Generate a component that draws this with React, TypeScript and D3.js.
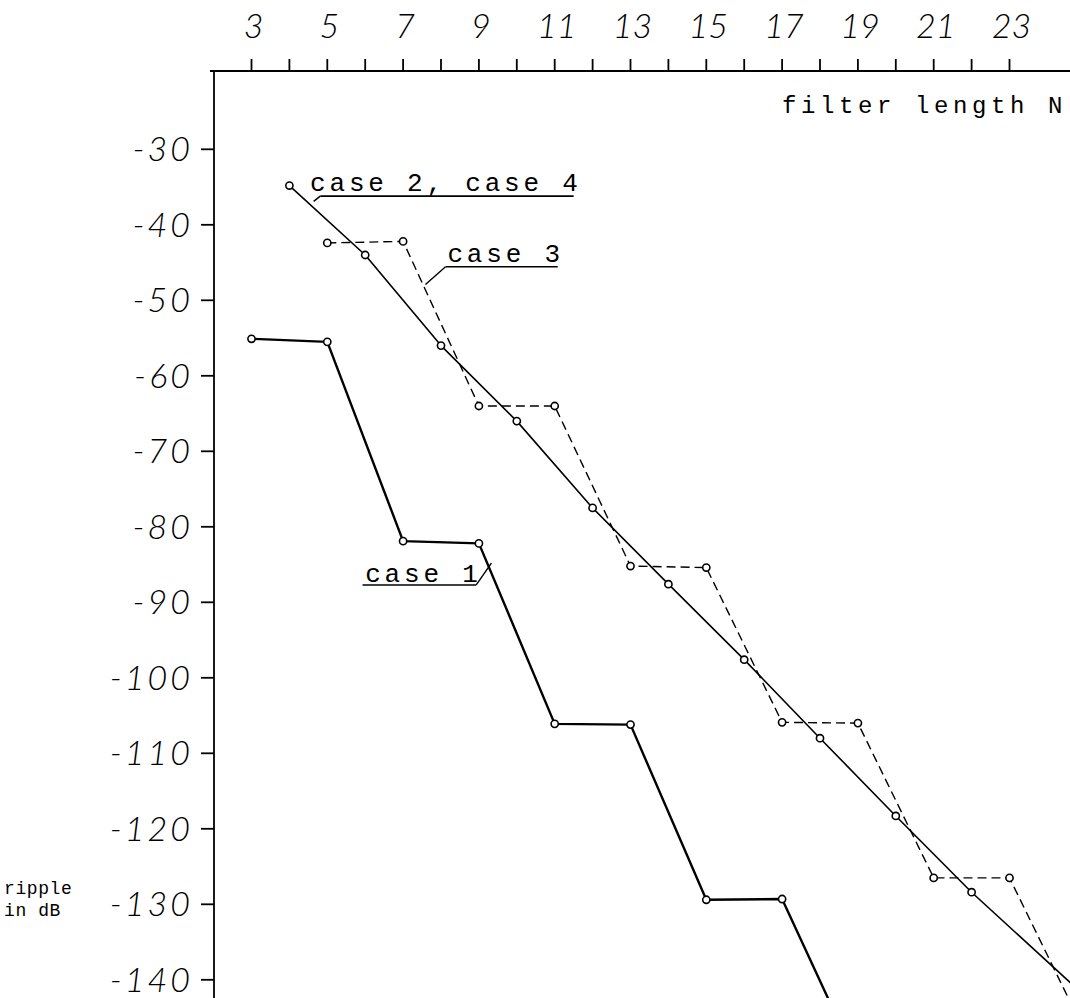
import React from 'react';
import * as d3 from 'd3';

// ---- data ----
const filterLengthTicks = [3, 4, 5, 6, 7, 8, 9, 10, 11, 12, 13, 14, 15, 16, 17, 18, 19, 20, 21, 22, 23];
const filterLengthLabels = [3, 5, 7, 9, 11, 13, 15, 17, 19, 21, 23];
const rippleTicks = [-30, -40, -50, -60, -70, -80, -90, -100, -110, -120, -130, -140];

const case1N = [3, 5, 7, 9, 11, 13, 15, 17];
const case1Ripple = [-55.1, -55.5, -81.9, -82.2, -106.1, -106.2, -129.4, -129.3];
const case1Next = { n: 19, v: -151 };

const case24N = [4, 6, 8, 10, 12, 14, 16, 18, 20, 22];
const case24Ripple = [-34.8, -44.0, -56.0, -66.0, -77.5, -87.6, -97.6, -108.0, -118.3, -128.4];
const case24Next = { n: 25, v: -142.2 };

const case3N = [5, 7, 9, 11, 13, 15, 17, 19, 21, 23];
const case3Ripple = [-42.4, -42.2, -64.0, -64.0, -85.2, -85.4, -105.9, -106.0, -126.5, -126.5];
const case3Next = { n: 25, v: -147 };

const seriesLabels = ['case 1', 'case 2, case 4', 'case 3'];

export default function App() {
  const W = 1070, H = 998;
  const left = 214, top = 71;
  const x = d3.scaleLinear().domain([3, 23]).range([251.5, 1009.5]);
  const y = d3.scaleLinear().domain([-30, -140]).range([149.3, 979.8]);

  const line = d3.line<[number, number]>().x(d => x(d[0])).y(d => y(d[1]));

  const mk = (ns: number[], vs: number[], next: { n: number; v: number }) => {
    const pts: [number, number][] = ns.map((n, i) => [n, vs[i]]);
    return { pts, path: line([...pts, [next.n, next.v]]) as string };
  };
  const s1 = mk(case1N, case1Ripple, case1Next);
  const s2 = mk(case24N, case24Ripple, case24Next);
  const s3 = mk(case3N, case3Ripple, case3Next);

  const labelFont = "'Liberation Mono', 'DejaVu Sans Mono', monospace";
  const numFont = "Lato, 'Open Sans', sans-serif";

  const marker = (pts: [number, number][], key: string) =>
    pts.map((p, i) => (
      <circle key={key + i} cx={x(p[0])} cy={y(p[1])} r={3.6} fill="#fff" stroke="#000" strokeWidth={1.6} />
    ));

  const annos = [
    { text: seriesLabels[1], tn: 4.546, tv: -35.5, un0: 4.815, un1: 11.5, uv: -36.2, ln: 4.64, lv: -36.9, fromStart: true },
    { text: seriesLabels[2], tn: 8.17, tv: -44.9, un0: 8.12, un1: 11.08, uv: -45.55, ln: 7.59, lv: -47.9, fromStart: true },
    { text: seriesLabels[0], tn: 6.0, tv: -87.25, un0: 5.93, un1: 8.93, uv: -87.7, ln: 9.33, lv: -84.8, fromStart: false },
  ];

  return (
    <svg width={W} height={H} style={{ position: 'absolute', left: 0, top: 0, background: '#fff' }}>
      <defs>
        <clipPath id="plot">
          <rect x={left} y={top} width={W - left} height={H - top} />
        </clipPath>
      </defs>
      <rect x={0} y={0} width={W} height={H} fill="#fff" />

      <line x1={210} y1={top} x2={W} y2={top} stroke="#000" strokeWidth={1.8} />
      <line x1={left} y1={top} x2={left} y2={H} stroke="#000" strokeWidth={1.8} />

      {filterLengthTicks.map(n => (
        <line key={'xt' + n} x1={x(n)} x2={x(n)} y1={top} y2={top - 12} stroke="#000" strokeWidth={1.8} />
      ))}
      {filterLengthLabels.map(n => (
        <text key={'xl' + n} x={x(n) + 2} y={38} textAnchor="middle" fontFamily={numFont} fontStyle="italic"
          fontWeight={300} fontSize={34} fill="#000">{n}</text>
      ))}

      {rippleTicks.map(v => (
        <line key={'yt' + v} x1={left} x2={left - 13} y1={y(v)} y2={y(v)} stroke="#000" strokeWidth={1.8} />
      ))}
      {rippleTicks.map(v => (
        <text key={'yl' + v} x={193} y={y(v) + 12} textAnchor="end" fontFamily={numFont} fontStyle="italic"
          fontWeight={300} fontSize={34} letterSpacing={3} fill="#000">{'-' + Math.abs(v)}</text>
      ))}

      <text x={1067} y={113} textAnchor="end" fontFamily={labelFont} fontSize={24} letterSpacing={4.6} fill="#000">filter length N</text>
      <text x={4} y={894} fontFamily={labelFont} fontSize={18} letterSpacing={0.6} fill="#000">ripple</text>
      <text x={4} y={916} fontFamily={labelFont} fontSize={18} letterSpacing={0.6} fill="#000">in dB</text>

      <g clipPath="url(#plot)" fill="none" stroke="#000">
        <path d={s1.path} strokeWidth={2.4} strokeLinejoin="round" />
        <path d={s2.path} strokeWidth={1.6} strokeLinejoin="round" />
        <path d={s3.path} strokeWidth={1.4} strokeDasharray="9,5" />
      </g>
      <g clipPath="url(#plot)">
        {marker(s1.pts, 'a')}
        {marker(s2.pts, 'b')}
        {marker(s3.pts, 'c')}
      </g>

      {annos.map((a, i) => (
        <g key={'an' + i}>
          <text x={x(a.tn)} y={y(a.tv)} fontFamily={labelFont} fontSize={26} letterSpacing={3.8} fill="#000">{a.text}</text>
          <line x1={x(a.un0)} x2={x(a.un1)} y1={y(a.uv)} y2={y(a.uv)} stroke="#000" strokeWidth={1.6} />
          <line x1={a.fromStart ? x(a.un0) : x(a.un1)} y1={y(a.uv)} x2={x(a.ln)} y2={y(a.lv)} stroke="#000" strokeWidth={1.4} />
        </g>
      ))}
    </svg>
  );
}
